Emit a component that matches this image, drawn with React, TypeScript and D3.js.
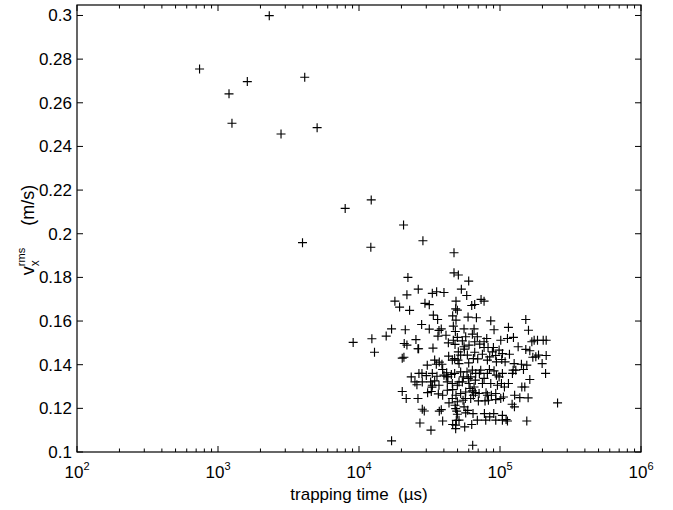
import React from "react";
import * as d3 from "d3";

// x axis: decades (exponents of 10), y axis tick values
const xTickExponents = [2, 3, 4, 5, 6];
const yTickValues = [0.1, 0.12, 0.14, 0.16, 0.18, 0.2, 0.22, 0.24, 0.26, 0.28, 0.3];
const yTickLabels = ["0.1", "0.12", "0.14", "0.16", "0.18", "0.2", "0.22", "0.24", "0.26", "0.28", "0.3"];

// [trapping time (µs), v_x^rms (m/s)]
const sparsePoints: [number, number][] = [
  [2310, 0.2999], [740, 0.2755], [1614, 0.2697], [1197, 0.2641], [4122, 0.2717], [1256, 0.2506],
  [2799, 0.2457], [5047, 0.2486], [7980, 0.2116], [12210, 0.2155], [3975, 0.1959], [12130, 0.1938],
  [20700, 0.204], [28400, 0.1968], [47180, 0.1913],
];

const clusterUpper: [number, number][] = [
  [22230, 0.18], [47180, 0.1821], [50650, 0.1811], [59970, 0.1783],
  [26320, 0.1746], [21870, 0.172], [33110, 0.1727], [35530, 0.1734], [40050, 0.1731], [53200, 0.1746], [58080, 0.1717],
  [17970, 0.1691], [19400, 0.1664], [22850, 0.1649], [29360, 0.1681], [31510, 0.1675], [48740, 0.1691], [48500, 0.1656],
  [49840, 0.165], [63020, 0.1671], [66160, 0.1676], [73400, 0.1699], [77090, 0.1691],
  [33670, 0.1627], [36110, 0.1607], [46170, 0.1624], [48740, 0.1604], [59360, 0.1618], [68030, 0.1615], [86000, 0.1601], [152400, 0.1607],
  [17020, 0.1564], [15590, 0.1531], [21290, 0.156], [27810, 0.1584], [31510, 0.1563], [36920, 0.1557], [38330, 0.1564],
  [46670, 0.1577], [48240, 0.1552], [55580, 0.1564], [65470, 0.1564], [90740, 0.156], [114800, 0.1571], [159200, 0.1558],
  [9090, 0.1502], [12340, 0.1519], [12880, 0.1457], [20930, 0.1497], [21870, 0.149], [25340, 0.1515], [26460, 0.1473],
  [33470, 0.1476], [36300, 0.1531], [41390, 0.1535], [43030, 0.15], [46670, 0.1512], [49840, 0.1525], [54080, 0.1509],
  [57110, 0.1528], [60300, 0.149], [63690, 0.154], [66160, 0.1505], [69080, 0.1528], [77090, 0.1505], [80520, 0.152],
  [89790, 0.1479], [101250, 0.1512], [112950, 0.152], [124550, 0.1525], [134500, 0.1482], [152400, 0.147], [168200, 0.1505],
  [174690, 0.1512], [184470, 0.1512], [202500, 0.1512], [212600, 0.1512],
];

const clusterMiddle: [number, number][] = [
  [20260, 0.143], [20820, 0.1434], [26190, 0.1473], [30490, 0.1398], [35340, 0.1402], [37110, 0.1412], [38750, 0.1402],
  [43240, 0.1439], [47690, 0.1428], [50650, 0.1459], [52590, 0.1444], [55880, 0.1471], [59970, 0.1408], [64750, 0.1428],
  [66160, 0.1457], [69470, 0.1427], [75030, 0.1448], [82270, 0.1479], [84530, 0.1436], [88330, 0.1459], [93290, 0.1442],
  [94300, 0.1413], [102900, 0.1424], [108700, 0.1413], [116700, 0.1448], [123900, 0.1375], [129400, 0.1375], [141900, 0.1402],
  [146700, 0.1378], [154900, 0.1398], [162700, 0.1464], [170900, 0.1434], [179500, 0.1436], [187600, 0.1444], [199000, 0.1405],
  [212600, 0.1442], [210500, 0.136],
  [23470, 0.1344], [24930, 0.1321], [25750, 0.1308], [27960, 0.136], [30020, 0.135], [33110, 0.1306], [34400, 0.1326],
  [35720, 0.1347], [39200, 0.1378], [41620, 0.1347], [42700, 0.1344], [45190, 0.1355], [47690, 0.136], [51200, 0.1321],
  [54960, 0.1344], [58360, 0.1367], [59630, 0.1337], [63690, 0.1375], [66860, 0.1329], [71420, 0.136], [77090, 0.1337],
  [81400, 0.136], [84100, 0.1378], [90740, 0.1372], [94300, 0.1352], [102400, 0.1314], [107500, 0.1298], [114800, 0.1314],
  [122500, 0.136], [142800, 0.1298], [149900, 0.1298], [162700, 0.1332],
];

const clusterLower: [number, number][] = [
  [20260, 0.1277], [21620, 0.1245], [26190, 0.1245], [30660, 0.1272], [32920, 0.1297], [36530, 0.1266], [39200, 0.126],
  [42310, 0.1283], [46170, 0.1286], [48740, 0.126], [52590, 0.1268], [54670, 0.1237], [56800, 0.1245], [61300, 0.1291],
  [64750, 0.126], [66860, 0.1272], [70250, 0.1234], [79640, 0.1271], [82780, 0.1237], [86870, 0.126], [93290, 0.124],
  [105800, 0.1252], [121900, 0.1219], [126600, 0.1207], [138200, 0.1249], [158300, 0.1248], [256000, 0.1225],
  [28110, 0.1196], [29040, 0.1188], [37110, 0.1187], [38330, 0.1194], [43480, 0.1225], [47980, 0.1214], [49290, 0.1187],
  [49840, 0.1173], [57110, 0.1179], [59020, 0.1191], [64360, 0.1176], [77530, 0.1176], [84530, 0.1161], [90300, 0.1176],
  [104000, 0.1168], [110500, 0.1149], [112950, 0.1142],
  [27050, 0.1133], [32390, 0.11], [39200, 0.1142], [46170, 0.1126], [49000, 0.1145], [56190, 0.1115], [63020, 0.1126],
  [154900, 0.1142], [17020, 0.1051], [64020, 0.1031],
];

const clusterCore: [number, number][] = [
  [47980, 0.1493], [55580, 0.1482], [71810, 0.1494], [77090, 0.1479], [98530, 0.1467], [104000, 0.1451], [34400, 0.1421],
  [45910, 0.1421], [50350, 0.1421], [51200, 0.1405], [58690, 0.1444], [81400, 0.1421], [26610, 0.136], [33110, 0.136],
  [40050, 0.1352], [41840, 0.1363], [52590, 0.1367], [61970, 0.1344], [67250, 0.136], [73000, 0.1375], [98530, 0.1344],
  [104000, 0.136], [28110, 0.1321], [32210, 0.1321], [36920, 0.1306], [42310, 0.1321], [45910, 0.1314], [49840, 0.1306],
  [54080, 0.1321], [60300, 0.1314], [65470, 0.1298], [75030, 0.1314], [86000, 0.1314], [95890, 0.1306], [32570, 0.1277],
  [57110, 0.1275], [63690, 0.128], [71030, 0.1268], [81400, 0.126], [93290, 0.1268], [45910, 0.1245], [49840, 0.123],
  [61970, 0.1245], [78330, 0.1234], [101250, 0.1245], [48490, 0.1199], [55580, 0.1207], [69080, 0.1146], [79210, 0.1146],
  [93290, 0.1146], [104000, 0.1146], [51200, 0.1146], [48490, 0.1123], [48490, 0.1107], [126000, 0.1405], [127000, 0.126],
];

const allPoints = [...sparsePoints, ...clusterUpper, ...clusterMiddle, ...clusterLower, ...clusterCore];

const FONT = 'Helvetica, "Liberation Sans", Arial, sans-serif';

export default function App() {
  const W = 673;
  const H = 510;
  const left = 77;
  const right = 641;
  const top = 5;
  const bottom = 452;

  const x = d3.scaleLog().domain([1e2, 1e6]).range([left, right]);
  const y = d3.scaleLinear().domain([0.1, 0.3048]).range([bottom, top]);

  const majorX = xTickExponents.map((e) => Math.pow(10, e));
  const minorX = x.ticks().filter((t) => !majorX.some((m) => Math.abs(m - t) / m < 1e-9));

  const majorLen = 6;
  const minorLen = 3.5;
  const cross = 4.5;

  return (
    <svg width={W} height={H} style={{ position: "absolute", left: 0, top: 0, background: "#fff" }}>
      <rect x={0} y={0} width={W} height={H} fill="#fff" />
      {/* frame */}
      <rect x={left} y={top} width={right - left} height={bottom - top} fill="none" stroke="#000" strokeWidth={1.2} />

      {/* x ticks */}
      {majorX.map((t, i) => (
        <g key={"mx" + i}>
          <line x1={x(t)} x2={x(t)} y1={bottom} y2={bottom - majorLen} stroke="#000" strokeWidth={1} />
          <line x1={x(t)} x2={x(t)} y1={top} y2={top + majorLen} stroke="#000" strokeWidth={1} />
          <text x={x(t)} y={478} textAnchor="middle" fontFamily={FONT} fontSize={17} fill="#000">
            10
            <tspan dy={-8} fontSize={11}>{xTickExponents[i]}</tspan>
          </text>
        </g>
      ))}
      {minorX.map((t, i) => (
        <g key={"nx" + i}>
          <line x1={x(t)} x2={x(t)} y1={bottom} y2={bottom - minorLen} stroke="#000" strokeWidth={1} />
          <line x1={x(t)} x2={x(t)} y1={top} y2={top + minorLen} stroke="#000" strokeWidth={1} />
        </g>
      ))}

      {/* y ticks */}
      {yTickValues.map((v, i) => (
        <g key={"y" + i}>
          <line x1={left} x2={left + majorLen} y1={y(v)} y2={y(v)} stroke="#000" strokeWidth={1} />
          <line x1={right} x2={right - majorLen} y1={y(v)} y2={y(v)} stroke="#000" strokeWidth={1} />
          <text x={72} y={y(v) + 6} textAnchor="end" fontFamily={FONT} fontSize={17} fill="#000">
            {yTickLabels[i]}
          </text>
        </g>
      ))}

      {/* points */}
      <g stroke="#000" strokeWidth={1.15} fill="none">
        {allPoints.map((p, i) => {
          const cx = x(p[0]);
          const cy = y(p[1]);
          return <path key={i} d={`M${cx - cross},${cy}H${cx + cross}M${cx},${cy - cross}V${cy + cross}`} />;
        })}
      </g>

      {/* axis labels */}
      <text
        x={(left + right) / 2}
        y={500}
        textAnchor="middle"
        fontFamily={FONT}
        fontSize={17}
        fill="#000"
        style={{ whiteSpace: "pre" }}
      >
        {"trapping time  (µs)"}
      </text>
      <text transform="translate(34,230) rotate(-90)" textAnchor="middle" fontFamily={FONT} fontSize={18} fill="#000">
        v
        <tspan dy={5} fontSize={12}>x</tspan>
        <tspan dx={-6} dy={-14} fontSize={11}>rms</tspan>
        <tspan dx={22} dy={9} fontSize={18}>(m/s)</tspan>
      </text>
    </svg>
  );
}
